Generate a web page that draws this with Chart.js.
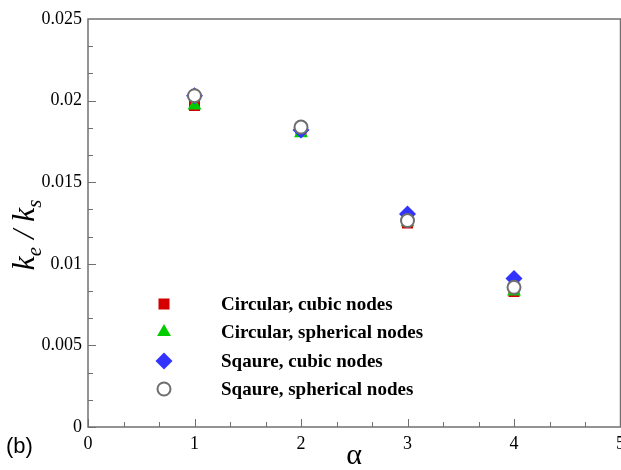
<!DOCTYPE html>
<html>
<head>
<meta charset="utf-8">
<script src="https://cdn.jsdelivr.net/npm/chart.js@4.4.0/dist/chart.umd.min.js"></script>
<style>
  html, body { margin: 0; padding: 0; background: #fff; }
  #wrap { width: 621px; height: 470px; position: relative; overflow: hidden; }
</style>
</head>
<body>
<div id="wrap"><canvas id="c" width="631" height="470"></canvas></div>
<script>
// values
const alpha = [1, 2, 3, 4];
const circularCubic = [0.0197, 0.0181, 0.0125, 0.0083];
const circularSpherical = [0.0197, 0.0180, 0.01255, 0.0083];
const squareCubic = [0.0203, 0.0182, 0.01305, 0.0091];
const squareSpherical = [0.0203, 0.01838, 0.01265, 0.00856];

const xTicks = [0, 1, 2, 3, 4, 5];
const yTicks = [0, 0.005, 0.01, 0.015, 0.02, 0.025];
const yTickLabels = ['0', '0.005', '0.01', '0.015', '0.02', '0.025'];

const AXIS = '#707070';
const SERIF = "'Liberation Serif', 'Times New Roman', serif";

const pts = (ys) => alpha.map((x, i) => ({ x, y: ys[i] }));

// frame, inward ticks, titles
const decor = {
  id: 'decor',
  afterDraw(chart) {
    const { ctx, chartArea: a, scales: { x, y } } = chart;
    ctx.save();
    ctx.strokeStyle = AXIS;
    ctx.lineWidth = 1.5;
    ctx.strokeRect(a.left, a.top, a.right - a.left, a.bottom - a.top);

    ctx.lineWidth = 1;
    ctx.beginPath();
    for (let i = 0; i < xTicks.length - 1; i++) {
      for (let k = 0; k < 3; k++) {
        const v = xTicks[i] + (xTicks[i + 1] - xTicks[i]) * k / 3;
        const px = Math.round(x.getPixelForValue(v)) + 0.5;
        const len = k === 0 ? 8 : 5;
        ctx.moveTo(px, a.bottom); ctx.lineTo(px, a.bottom - len);
      }
    }
    for (let i = 0; i < yTicks.length - 1; i++) {
      for (let k = 0; k < 3; k++) {
        const v = yTicks[i] + (yTicks[i + 1] - yTicks[i]) * k / 3;
        const py = Math.round(y.getPixelForValue(v)) + 0.5;
        const len = k === 0 ? 8 : 5;
        ctx.moveTo(a.left, py); ctx.lineTo(a.left + len, py);
      }
    }
    ctx.stroke();

    ctx.fillStyle = '#000';
    ctx.textAlign = 'center';
    ctx.textBaseline = 'middle';
    ctx.font = '30px ' + SERIF;
    ctx.fillText('\u03b1', 354, 456);

    ctx.textAlign = 'left';
    ctx.font = "22px 'Liberation Sans', Arial, sans-serif";
    ctx.fillText('(b)', 6, 447);

    // y title k_e / k_s
    ctx.save();
    ctx.translate(34, 235);
    ctx.rotate(-Math.PI / 2);
    const big = 'italic 32px ' + SERIF;
    const small = 'italic 21px ' + SERIF;
    const parts = [['k', big, 0], ['e', small, 7], [' / ', big, 0], ['k', big, 0], ['s', small, 7]];
    let w = 0;
    parts.forEach(([t, f]) => { ctx.font = f; w += ctx.measureText(t).width; });
    let cx = -w / 2;
    ctx.textBaseline = 'alphabetic';
    parts.forEach(([t, f, dy]) => {
      ctx.font = f;
      ctx.fillText(t, cx, dy);
      cx += ctx.measureText(t).width;
    });
    ctx.restore();
    ctx.restore();
  }
};

// legend: marker + bold label per dataset
const legendPlugin = {
  id: 'legendMarks',
  afterDraw(chart) {
    const { ctx } = chart;
    const rows = [304, 332, 361, 389];
    ctx.save();
    chart.data.datasets.forEach((ds, i) => {
      ctx.fillStyle = ds.backgroundColor;
      ctx.strokeStyle = ds.borderColor;
      ctx.lineWidth = ds.borderWidth;
      Chart.helpers.drawPoint(ctx, {
        pointStyle: ds.pointStyle, radius: ds.pointRadius,
        borderWidth: ds.borderWidth, rotation: 0
      }, 164, rows[i]);
      ctx.fillStyle = '#000';
      ctx.font = 'bold 19px ' + SERIF;
      ctx.textAlign = 'left';
      ctx.textBaseline = 'middle';
      ctx.fillText(ds.label, 221, rows[i] + 1);
    });
    ctx.restore();
  }
};

new Chart(document.getElementById('c'), {
  type: 'scatter',
  data: {
    datasets: [
      { label: 'Circular, cubic nodes', data: pts(circularCubic), pointStyle: 'rect', pointRadius: 7.8,
        backgroundColor: '#d40000', borderColor: '#d40000', borderWidth: 0, order: 4 },
      { label: 'Circular, spherical nodes', data: pts(circularSpherical), pointStyle: 'triangle', pointRadius: 8,
        backgroundColor: '#00cc00', borderColor: '#00cc00', borderWidth: 0, order: 3 },
      { label: 'Sqaure, cubic nodes', data: pts(squareCubic), pointStyle: 'rectRot', pointRadius: 8.5,
        backgroundColor: '#3333ff', borderColor: '#3333ff', borderWidth: 0, order: 2 },
      { label: 'Sqaure, spherical nodes', data: pts(squareSpherical), pointStyle: 'circle', pointRadius: 6.5,
        backgroundColor: '#ffffff', borderColor: '#6e6e6e', borderWidth: 2, order: 1 }
    ]
  },
  options: {
    responsive: false,
    animation: false,
    events: [],
    layout: { padding: { top: 19, right: 1, left: 0, bottom: 0 } },
    plugins: { legend: { display: false }, tooltip: { enabled: false } },
    scales: {
      x: {
        type: 'linear', min: 0, max: 5,
        afterBuildTicks: (s) => { s.ticks = xTicks.map((v) => ({ value: v })); },
        afterFit: (s) => { s.height = 43; },
        grid: { display: false, drawTicks: false },
        border: { display: false },
        ticks: { color: '#000', padding: 6, font: { family: SERIF, size: 18 }, maxRotation: 0,
          callback: (v) => String(v) }
      },
      y: {
        type: 'linear', min: 0, max: 0.025,
        afterBuildTicks: (s) => { s.ticks = yTicks.map((v) => ({ value: v })); },
        afterFit: (s) => { s.width = 88; },
        grid: { display: false, drawTicks: false },
        border: { display: false },
        ticks: { color: '#000', padding: 6, font: { family: SERIF, size: 18 },
          callback: (v, i) => yTickLabels[i] }
      }
    }
  },
  plugins: [decor, legendPlugin]
});
</script>
</body>
</html>
